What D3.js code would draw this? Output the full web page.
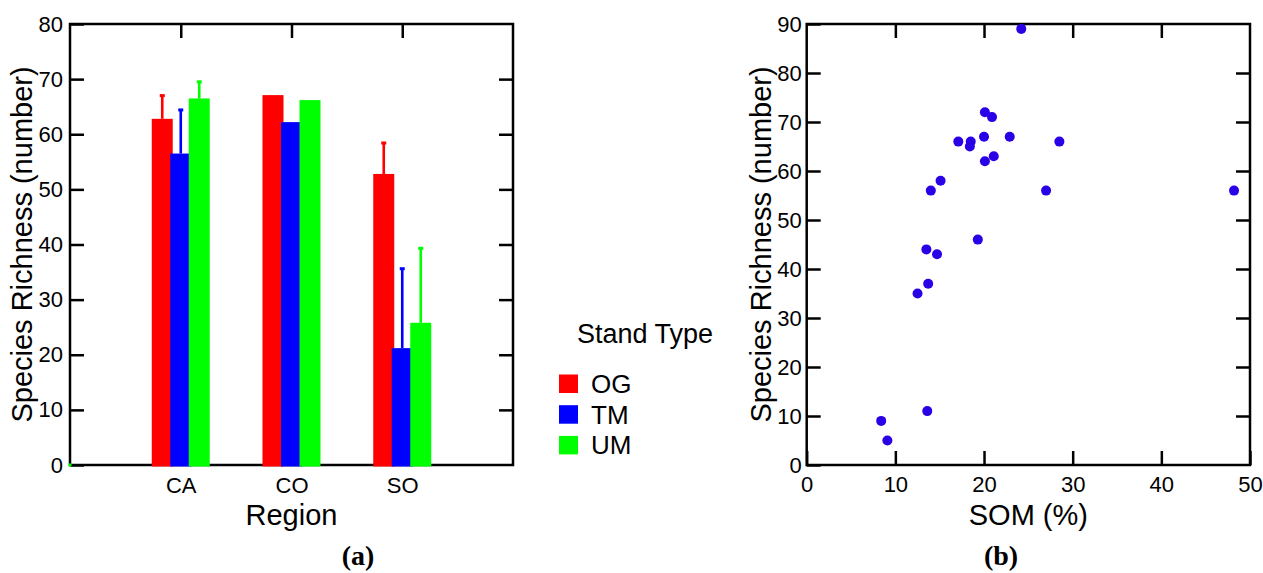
<!DOCTYPE html>
<html>
<head>
<meta charset="utf-8">
<script src="https://cdn.jsdelivr.net/npm/d3@7"></script>
<style>
  html, body { margin: 0; padding: 0; background: #fff; }
  svg { display: block; }
  text { font-family: "Liberation Sans", Arial, sans-serif; fill: #000; }
</style>
</head>
<body>
<svg id="chart" width="1263" height="573"></svg>
<script>
// ---------- Data ----------
const regions = ["CA", "CO", "SO"];
const standTypes = ["OG", "TM", "UM"];
const standColors = ["#ff0000", "#0000ff", "#00ff00"];
// mean species richness per region for each stand type
const meanOG = [62.8, 67.1, 52.8];
const meanTM = [56.5, 62.2, 21.2];
const meanUM = [66.5, 66.2, 25.8];
// upper error (top of error bar)
const errTopOG = [67.1, 67.1, 58.5];
const errTopTM = [64.5, 62.2, 35.7];
const errTopUM = [69.6, 66.2, 39.4];
const barTicksY = [0, 10, 20, 30, 40, 50, 60, 70, 80];

// scatter: soil organic matter (%) vs species richness
const somValues = [24.2, 20.1, 20.9, 20.0, 22.9, 17.1, 18.5, 18.4, 20.1, 21.1, 14.0, 15.1, 19.3, 13.5, 14.7, 13.7, 12.5, 8.4, 9.1, 13.6, 28.5, 27.0, 48.2];
const richValues = [89, 72, 71, 67, 67, 66, 66, 65, 62, 63, 56, 58, 46, 44, 43, 37, 35, 9, 5, 11, 66, 56, 56];
const scatTicksX = [0, 10, 20, 30, 40, 50];
const scatTicksY = [0, 10, 20, 30, 40, 50, 60, 70, 80, 90];

const svg = d3.select("#chart");
const TICK = 14;
const FS = 22;

// ---------- Panel (a) ----------
const A = { l: 70, r: 513, t: 24, b: 465 };
const xa = d3.scaleLinear().domain([0, regions.length + 1]).range([A.l, A.r]);
const ya = d3.scaleLinear().domain([0, 80]).range([A.b, A.t]);

const ga = svg.append("g");

function styleAxis(g) {
  g.select(".domain").remove();
  g.selectAll(".tick line").attr("stroke", "#000").attr("stroke-width", 2.5);
  g.selectAll(".tick text").style("font-size", FS + "px").style("font-family", '"Liberation Sans", Arial, sans-serif').attr("fill", "#000");
}

ga.append("g").attr("transform", `translate(${A.l},0)`)
  .call(d3.axisLeft(ya).tickValues(barTicksY).tickSize(-TICK).tickPadding(7))
  .call(styleAxis);
ga.append("g").attr("transform", `translate(${A.r},0)`)
  .call(d3.axisRight(ya).tickValues(barTicksY.slice(1, -1)).tickSize(-TICK).tickFormat(""))
  .call(styleAxis);
ga.append("g").attr("transform", `translate(0,${A.t})`)
  .call(d3.axisTop(xa).tickValues(d3.range(1, regions.length + 1)).tickSize(-TICK).tickFormat(""))
  .call(styleAxis);
ga.append("g").attr("transform", `translate(0,${A.b})`)
  .call(d3.axisBottom(xa).tickValues(d3.range(1, regions.length + 1)).tickSize(-TICK).tickPadding(12)
    .tickFormat(i => regions[i - 1]))
  .call(styleAxis);

ga.append("rect").attr("x", A.l).attr("y", A.t).attr("width", A.r - A.l).attr("height", A.b - A.t)
  .attr("fill", "none").attr("stroke", "#000").attr("stroke-width", 2.5);

const means = [meanOG, meanTM, meanUM];
const tops = [errTopOG, errTopTM, errTopUM];
const barW = 21;
const offsets = [-18.5, 0, 18.5];
standTypes.forEach((s, k) => {
  const gs = ga.append("g");
  regions.forEach((r, i) => {
    const cx = xa(i + 1) + offsets[k];
    gs.append("rect")
      .attr("x", cx - barW / 2).attr("width", barW)
      .attr("y", ya(means[k][i])).attr("height", ya(0) - ya(means[k][i]) + 1.5)
      .attr("fill", standColors[k]);
    if (tops[k][i] > means[k][i] + 0.3) {
      gs.append("line")
        .attr("x1", cx).attr("x2", cx)
        .attr("y1", ya(means[k][i])).attr("y2", ya(tops[k][i]))
        .attr("stroke", standColors[k]).attr("stroke-width", 2.6);
      gs.append("rect")
        .attr("x", cx - 2.5).attr("width", 5)
        .attr("y", ya(tops[k][i]) - 1).attr("height", 3)
        .attr("fill", standColors[k]);
    }
  });
});
ga.append("rect").attr("x", xa(0) - 1.5).attr("y", ya(0) - 1.5).attr("width", 3).attr("height", 3).attr("fill", "#00ff00");

ga.append("text").attr("transform", `translate(32,${(A.t + A.b) / 2}) rotate(-90)`)
  .attr("text-anchor", "middle").style("font-size", "29px").text("Species Richness (number)");
ga.append("text").attr("x", (A.l + A.r) / 2).attr("y", 525)
  .attr("text-anchor", "middle").style("font-size", "29px").text("Region");

const lg = svg.append("g");
lg.append("text").attr("x", 577).attr("y", 343).style("font-size", "27px").text("Stand Type");
standTypes.forEach((s, k) => {
  const y0 = 374.5 + k * 30.7;
  lg.append("rect").attr("x", 559).attr("y", y0).attr("width", 19).attr("height", 18.5).attr("fill", standColors[k]);
  lg.append("text").attr("x", 591).attr("y", y0 + 18.5).style("font-size", "26px").text(s);
});

svg.append("text").attr("x", 358).attr("y", 565).attr("text-anchor", "middle")
  .style("font-family", '"Liberation Serif", "Times New Roman", serif').style("font-weight", "bold").style("font-size", "28px").text("(a)");

// ---------- Panel (b) ----------
const B = { l: 806.7, r: 1250, t: 24, b: 465 };
const xb = d3.scaleLinear().domain([0, 50]).range([B.l, B.r]);
const yb = d3.scaleLinear().domain([0, 90]).range([B.b, B.t]);
const gb = svg.append("g");

gb.append("g").attr("transform", `translate(${B.l},0)`)
  .call(d3.axisLeft(yb).tickValues(scatTicksY).tickSize(-TICK).tickPadding(5))
  .call(styleAxis);
gb.append("g").attr("transform", `translate(${B.r},0)`)
  .call(d3.axisRight(yb).tickValues(scatTicksY.slice(1, -1)).tickSize(-TICK).tickFormat(""))
  .call(styleAxis);
gb.append("g").attr("transform", `translate(0,${B.t})`)
  .call(d3.axisTop(xb).tickValues(scatTicksX.slice(1, -1)).tickSize(-TICK).tickFormat(""))
  .call(styleAxis);
gb.append("g").attr("transform", `translate(0,${B.b})`)
  .call(d3.axisBottom(xb).tickValues(scatTicksX).tickSize(-TICK).tickPadding(11))
  .call(styleAxis);

gb.append("rect").attr("x", B.l).attr("y", B.t).attr("width", B.r - B.l).attr("height", B.b - B.t)
  .attr("fill", "none").attr("stroke", "#000").attr("stroke-width", 2.5);

gb.append("g").selectAll("circle").data(somValues.map((s, i) => [s, richValues[i]]))
  .join("circle")
  .attr("cx", d => xb(d[0])).attr("cy", d => yb(d[1])).attr("r", 5)
  .attr("fill", "#2a00e6");

gb.append("text").attr("transform", `translate(771,${(B.t + B.b) / 2}) rotate(-90)`)
  .attr("text-anchor", "middle").style("font-size", "29px").text("Species Richness (number)");
gb.append("text").attr("x", (B.l + B.r) / 2).attr("y", 525)
  .attr("text-anchor", "middle").style("font-size", "29px").text("SOM (%)");

svg.append("text").attr("x", 1001).attr("y", 565).attr("text-anchor", "middle")
  .style("font-family", '"Liberation Serif", "Times New Roman", serif').style("font-weight", "bold").style("font-size", "28px").text("(b)");
</script>
</body>
</html>
